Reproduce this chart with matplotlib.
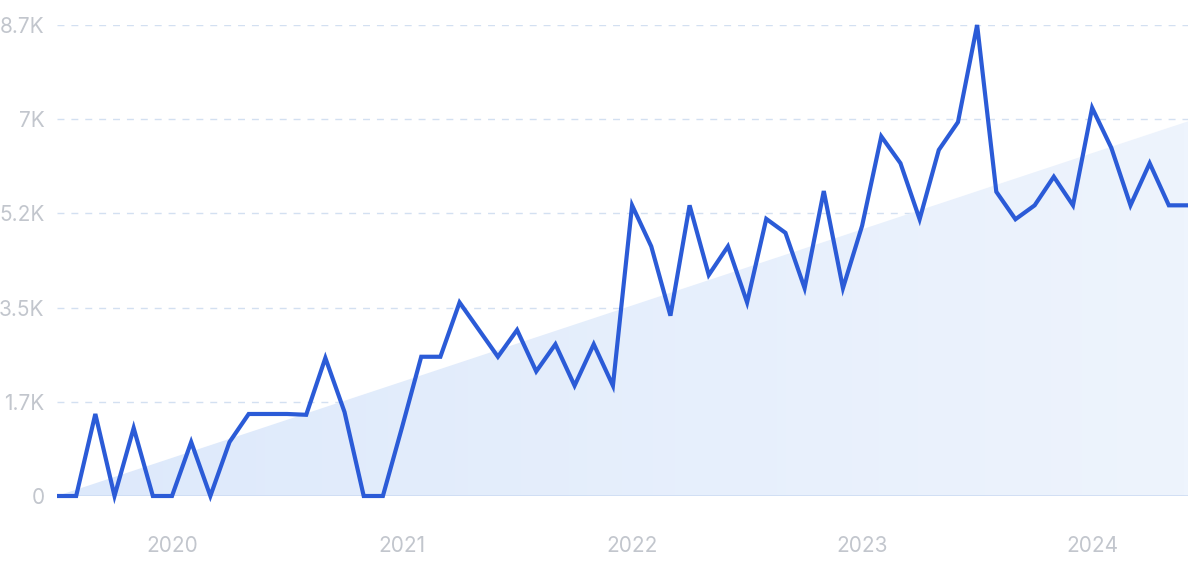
import matplotlib
import numpy as np

matplotlib.use("Agg")
import matplotlib.pyplot as plt
from matplotlib.patches import Polygon

# monthly values, Jul 2019 .. Jun 2024
values = [
    0, 0, 1515, 0, 1256, 0, 0, 997, 0, 997,
    1515, 1515, 1515, 1500, 2550, 1550, 0, 0, 1270, 2572,
    2572, 3575, 3074, 2572, 3067, 2302, 2803, 2038, 2803, 2038,
    5369, 4611, 3331, 5369, 4083, 4611, 3575, 5119, 4861, 3839,
    5633, 3839, 4993, 6642, 6147, 5112, 6392, 6906, 8700, 5620,
    5112, 5369, 5897, 5369, 7170, 6431, 5369, 6147, 5369, 5369,
]
trend_start, trend_end = 0, 6920
year_labels = ["2020", "2021", "2022", "2023", "2024"]
year_positions = [6, 18, 30, 42, 54]
y_ticks = [0, 1740, 3480, 5220, 6960, 8700]
y_labels = ["0", "1.7K", "3.5K", "5.2K", "7K", "8.7K"]

plt.rcParams["font.family"] = ["Inter", "DejaVu Sans"]

x = np.arange(len(values))
fig = plt.figure(figsize=(12, 5.62), dpi=100)
ax = fig.add_axes([57 / 1200, 66 / 562, 1131 / 1200, 471 / 562])

# trend area with a soft left-to-right gradient
x_end = x[-1]
tri = Polygon([(0, trend_start), (x_end, trend_end), (x_end, 0)], closed=True,
              facecolor="none", edgecolor="none")
ax.add_patch(tri)
grad = np.linspace(0, 1, 256).reshape(1, -1)
cmap = matplotlib.colors.LinearSegmentedColormap.from_list("g", ["#dde9fb", "#eef4fd"])
img = ax.imshow(grad, extent=[0, x_end, 0, trend_end], aspect="auto", cmap=cmap,
                origin="lower", zorder=1)
img.set_clip_path(tri)

for t in y_ticks[1:]:
    ax.axhline(t, color="#d3e0f1", linewidth=1.0, linestyle=(0, (5, 5)), zorder=0.5)
ax.axhline(0, color="#cddcf3", linewidth=1.2, zorder=1.5)

ax.plot(x, values, color="#2b5bd7", linewidth=3.0, solid_joinstyle="miter",
        solid_capstyle="butt", zorder=3, clip_on=False)

ax.set_xlim(0, x_end)
ax.set_ylim(0, 8700)
ax.set_xticks(year_positions)
ax.set_xticklabels(year_labels)
ax.set_yticks(y_ticks)
ax.set_yticklabels(y_labels)
ax.tick_params(axis="both", length=0, labelcolor="#c2c6cd", labelsize=15)
ax.tick_params(axis="x", pad=29)
ax.tick_params(axis="y", pad=9)
for s in ax.spines.values():
    s.set_visible(False)

fig.savefig("out.png", dpi=100)
